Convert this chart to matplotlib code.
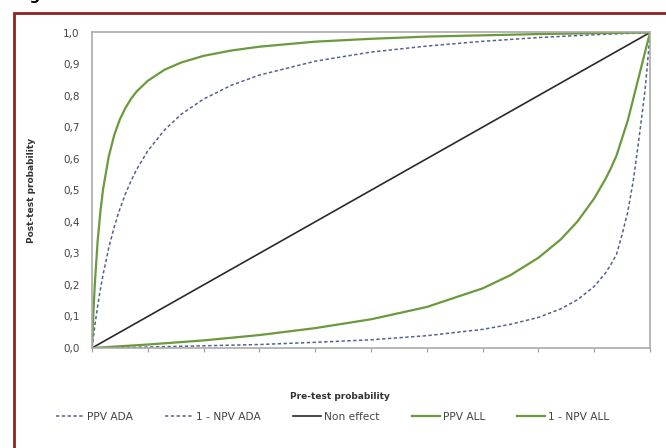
import matplotlib.pyplot as plt
from matplotlib.patches import Rectangle

# pre-test probability grids
x_up = [0, 0.0025, 0.005, 0.01, 0.015, 0.02, 0.03, 0.04, 0.05, 0.06, 0.07, 0.08,
        0.1, 0.13, 0.16, 0.2, 0.25, 0.3, 0.4, 0.5, 0.6, 0.7, 0.8, 0.9, 1.0]
x_low = [0, 0.1, 0.2, 0.3, 0.4, 0.5, 0.6, 0.7, 0.75, 0.8, 0.84, 0.87, 0.9,
         0.92, 0.93, 0.94, 0.95, 0.96, 0.97, 0.975, 0.98, 0.985, 0.99, 0.995, 1.0]

ppv_ada = [0, 0.036, 0.070, 0.132, 0.186, 0.234, 0.317, 0.385, 0.441, 0.489, 0.530,
           0.566, 0.625, 0.691, 0.741, 0.789, 0.833, 0.865, 0.909, 0.938, 0.957,
           0.972, 0.984, 0.993, 1.0]
ppv_all = [0, 0.111, 0.201, 0.336, 0.432, 0.505, 0.607, 0.676, 0.725, 0.761, 0.790,
           0.813, 0.847, 0.882, 0.905, 0.926, 0.943, 0.955, 0.971, 0.980, 0.987,
           0.991, 0.995, 0.998, 1.0]
npv_ada = [0, 0.003, 0.007, 0.011, 0.018, 0.026, 0.039, 0.059, 0.075, 0.097, 0.124,
           0.153, 0.195, 0.237, 0.265, 0.297, 0.36, 0.43, 0.53, 0.595, 0.66, 0.73,
           0.80, 0.89, 1.0]
npv_all = [0, 0.011, 0.024, 0.041, 0.063, 0.091, 0.130, 0.189, 0.231, 0.286, 0.344,
           0.401, 0.474, 0.535, 0.57, 0.610, 0.665, 0.72, 0.79, 0.825, 0.86, 0.895,
           0.93, 0.965, 1.0]
diag = [0, 1]

labels = ['PPV ADA', '1 - NPV ADA', 'Non effect', 'PPV ALL', '1 - NPV ALL']
yticks = [i / 10 for i in range(11)]
ytick_labels = [('%.1f' % v).replace('.', ',') for v in yticks]

blue = '#56628c'
green = '#6a9a3c'

fig = plt.figure(figsize=(6.66, 4.48), dpi=100)
fig.patch.set_facecolor('white')

# dark red frame of the page (cropped on right and bottom)
fig.patches.append(Rectangle((13.5 / 666, -0.05), 1.1, (448 - 12.8) / 448 + 0.05,
                             transform=fig.transFigure, fill=False,
                             edgecolor='#8e2323', linewidth=2.0))
# cropped "Figure" caption, only the descender of g shows
fig.text(15 / 666, 1.0, 'Figure', fontsize=11, fontweight='bold', va='baseline',
         color='black')

ax = fig.add_axes([92 / 666, 1 - 348 / 448, 558 / 666, 315.5 / 448])
dash = (0, (2.2, 1.6))
ax.plot(x_up, ppv_ada, color=blue, lw=1.1, ls=dash, label=labels[0])
ax.plot(x_low, npv_ada, color=blue, lw=1.1, ls=dash, label=labels[1])
ax.plot(diag, diag, color='#2a2a2a', lw=1.2, label=labels[2])
ax.plot(x_up, ppv_all, color=green, lw=1.6, label=labels[3])
ax.plot(x_low, npv_all, color=green, lw=1.6, label=labels[4])

ax.set_xlim(0, 1)
ax.set_ylim(0, 1)
ax.set_xticks(yticks)
ax.set_xticklabels([])
ax.set_yticks(yticks)
ax.set_yticklabels(ytick_labels, fontsize=7.5, color='#444444')
ax.tick_params(axis='y', length=0, pad=9)
ax.tick_params(axis='x', length=3, color='#999999', direction='out')
for s in ax.spines.values():
    s.set_color('#aaaaaa')
    s.set_linewidth(1.2)

ax.set_ylabel('Post-test probability', fontsize=6.5, fontweight='bold',
              color='#333333')
ax.yaxis.set_label_coords(-0.101, 0.5)
ax.set_xlabel('Pre-test probability', fontsize=6.5, fontweight='bold',
              color='#333333')
ax.xaxis.set_label_coords(0.445, -0.14)

leg = fig.legend(loc='center', bbox_to_anchor=(0.50, 1 - 417 / 448), ncol=5,
                 frameon=False, fontsize=7.7, handlelength=2.6,
                 handletextpad=0.3, columnspacing=3.0)
for t in leg.get_texts():
    t.set_color('#444444')

fig.savefig('out.png', dpi=100)
